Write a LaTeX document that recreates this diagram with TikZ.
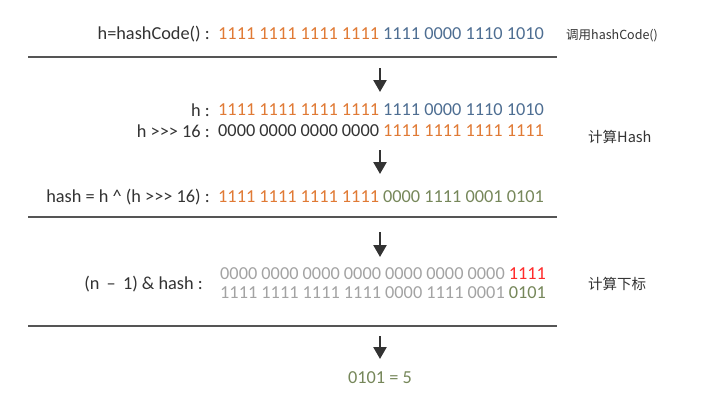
\documentclass[tikz,border=0pt]{standalone}
\usepackage{fontspec}
\setmainfont[Ligatures=NoCommon]{Carlito}
\newfontfamily\cjk{Noto Sans CJK SC}
\usetikzlibrary{arrows.meta}
\definecolor{txt}{HTML}{333333}
\definecolor{org}{HTML}{E07A35}
\definecolor{blu}{HTML}{4E6E92}
\definecolor{grn}{HTML}{76875A}
\definecolor{gry}{HTML}{A3A3A3}
\definecolor{rd}{HTML}{FF2A2A}
\definecolor{rule}{HTML}{555555}
\newcommand\gtr{>{}>{}>}
\begin{document}
\begin{tikzpicture}[x=1pt,y=-1pt,
  lab/.style={anchor=east,inner sep=0pt,font=\fontsize{18.3}{20}\selectfont,text=txt},
  bits/.style={anchor=west,inner sep=0pt,font=\fontsize{18.3}{20}\selectfont},
  note/.style={anchor=west,inner sep=0pt,font=\cjk\fontsize{12.5}{14}\selectfont,text=txt},
  bignote/.style={note,font=\cjk\fontsize{14.5}{16}\selectfont},
  sep/.style={draw=rule,line width=1.6pt},
  down/.style={draw=txt,line width=2.4pt,-{Triangle[length=12pt,width=13pt]}}]
\useasboundingbox (0,0) rectangle (718,405);
% row 1
\node[lab] (l1) at (210,34) {h=hashCode() :};
\node[bits] (b1) at (218,34) {\textcolor{org}{1111 1111 1111 1111} \textcolor{blu}{1111 0000 1110 1010}};
\node[note] (n1) at (566,36) {调用hashCode()};
\coordinate (r1a) at (28,57); \coordinate (r1b) at (557,57);
\draw[sep] (r1a) -- (r1b);
\coordinate (a1s) at (380,68); \coordinate (a1e) at (380,92);
\draw[down] (a1s) -- (a1e);
% row 2
\node[lab] (l2) at (210,110) {h :};
\node[bits] (b2) at (218,110) {\textcolor{org}{1111 1111 1111 1111} \textcolor{blu}{1111 0000 1110 1010}};
\node[lab] (l3) at (210,131) {h \gtr{} 16 :};
\node[bits] (b3) at (218,131) {\textcolor{txt}{0000 0000 0000 0000} \textcolor{org}{1111 1111 1111 1111}};
\node[bignote] (n2) at (588,137) {计算Hash};
\coordinate (a2s) at (380,150); \coordinate (a2e) at (380,174);
\draw[down] (a2s) -- (a2e);
% row 3
\node[lab] (l4) at (210,197) {hash = h \^{} (h \gtr{} 16) :};
\node[bits] (b4) at (218,197) {\textcolor{org}{1111 1111 1111 1111} \textcolor{grn}{0000 1111 0001 0101}};
\coordinate (r2a) at (28,217); \coordinate (r2b) at (557,217);
\draw[sep] (r2a) -- (r2b);
\coordinate (a3s) at (380,232); \coordinate (a3e) at (380,257);
\draw[down] (a3s) -- (a3e);
% row 4
\node[lab] (l5) at (203,284) {(n \,\textendash\, 1) \& hash :};
\node[bits] (b5) at (220,274) {\textcolor{gry}{0000 0000 0000 0000 0000 0000 0000} \textcolor{rd}{1111}};
\node[bits] (b6) at (220,293) {\textcolor{gry}{1111 1111 1111 1111 0000 1111 0001} \textcolor{grn}{0101}};
\node[bignote] (n3) at (588,284) {计算下标};
\coordinate (r3a) at (28,326); \coordinate (r3b) at (557,326);
\draw[sep] (r3a) -- (r3b);
\coordinate (a4s) at (380,336); \coordinate (a4e) at (380,359);
\draw[down] (a4s) -- (a4e);
\node[bits,anchor=center,text=grn] (res) at (380,378) {0101 = 5};
\end{tikzpicture}
\end{document}
